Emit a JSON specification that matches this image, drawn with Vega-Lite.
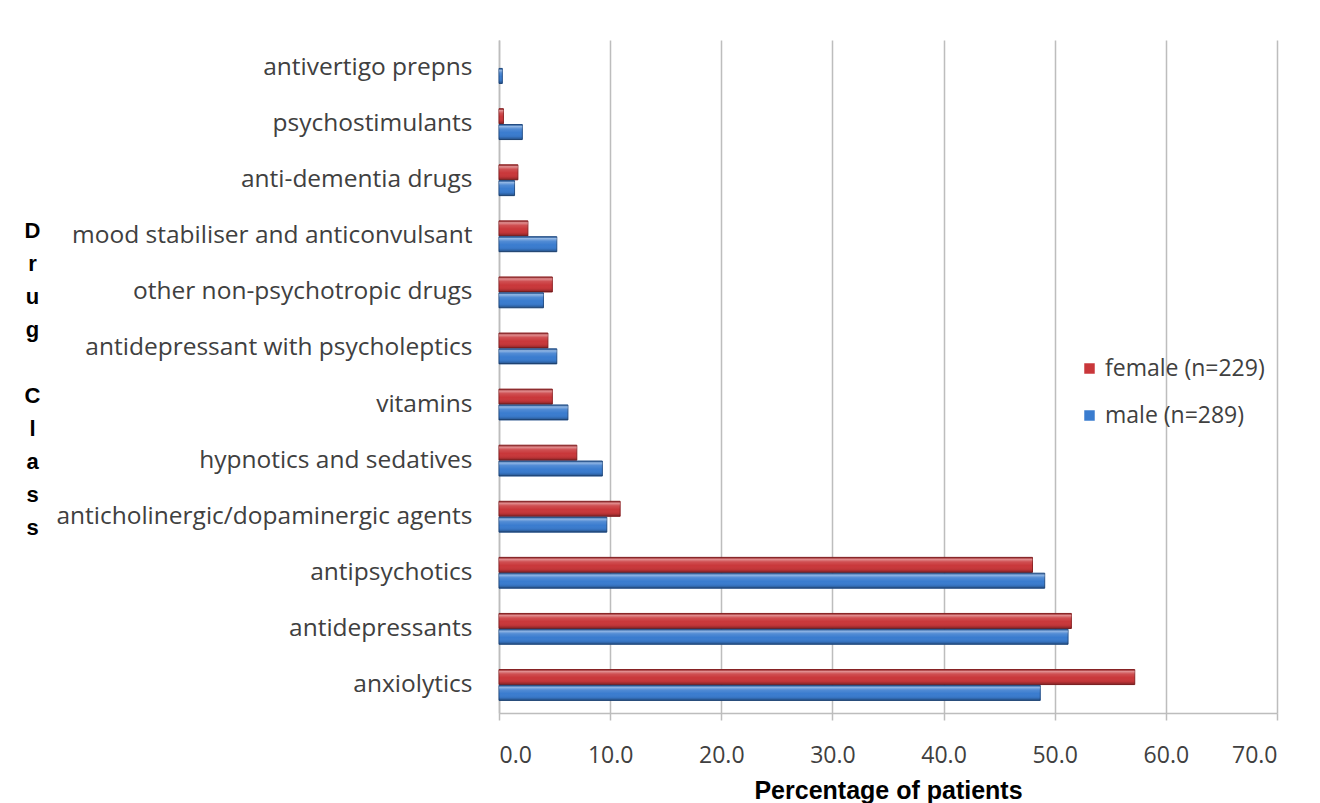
{
  "$schema": "https://vega.github.io/schema/vega-lite/v6.json",
  "autosize": {"type": "none"},
  "width": 778,
  "height": 673,
  "padding": {"left": 499, "top": 40, "right": 43, "bottom": 90},
  "background": "white",
  "config": {
    "view": {"stroke": null},
    "font": "Open Sans"
  },
  "data": {
    "values": [
      {"drug": "antivertigo prepns", "sex": "male (n=289)", "pct": 0.3},
      {"drug": "psychostimulants", "sex": "female (n=229)", "pct": 0.4},
      {"drug": "psychostimulants", "sex": "male (n=289)", "pct": 2.1},
      {"drug": "anti-dementia drugs", "sex": "female (n=229)", "pct": 1.7},
      {"drug": "anti-dementia drugs", "sex": "male (n=289)", "pct": 1.4},
      {"drug": "mood stabiliser and anticonvulsant", "sex": "female (n=229)", "pct": 2.6},
      {"drug": "mood stabiliser and anticonvulsant", "sex": "male (n=289)", "pct": 5.2},
      {"drug": "other non-psychotropic drugs", "sex": "female (n=229)", "pct": 4.8},
      {"drug": "other non-psychotropic drugs", "sex": "male (n=289)", "pct": 4.0},
      {"drug": "antidepressant with psycholeptics", "sex": "female (n=229)", "pct": 4.4},
      {"drug": "antidepressant with psycholeptics", "sex": "male (n=289)", "pct": 5.2},
      {"drug": "vitamins", "sex": "female (n=229)", "pct": 4.8},
      {"drug": "vitamins", "sex": "male (n=289)", "pct": 6.2},
      {"drug": "hypnotics and sedatives", "sex": "female (n=229)", "pct": 7.0},
      {"drug": "hypnotics and sedatives", "sex": "male (n=289)", "pct": 9.3},
      {"drug": "anticholinergic/dopaminergic agents", "sex": "female (n=229)", "pct": 10.9},
      {"drug": "anticholinergic/dopaminergic agents", "sex": "male (n=289)", "pct": 9.7},
      {"drug": "antipsychotics", "sex": "female (n=229)", "pct": 48.0},
      {"drug": "antipsychotics", "sex": "male (n=289)", "pct": 49.1},
      {"drug": "antidepressants", "sex": "female (n=229)", "pct": 51.5},
      {"drug": "antidepressants", "sex": "male (n=289)", "pct": 51.2},
      {"drug": "anxiolytics", "sex": "female (n=229)", "pct": 57.2},
      {"drug": "anxiolytics", "sex": "male (n=289)", "pct": 48.7}
    ]
  },
  "encoding": {
    "y": {
      "field": "drug",
      "type": "nominal",
      "sort": ["antivertigo prepns", "psychostimulants", "anti-dementia drugs", "mood stabiliser and anticonvulsant", "other non-psychotropic drugs", "antidepressant with psycholeptics", "vitamins", "hypnotics and sedatives", "anticholinergic/dopaminergic agents", "antipsychotics", "antidepressants", "anxiolytics"],
      "scale": {"paddingInner": 0.45, "paddingOuter": 0.225},
      "axis": {
        "title": ["D", "r", "u", "g", "\u200b", "C", "l", "a", "s", "s"],
        "titleAngle": 0,
        "titleAlign": "center",
        "titleBaseline": "middle",
        "titleX": -467,
        "titleY": 190,
        "titleLineHeight": 33,
        "titleFont": "Liberation Sans",
        "titleFontSize": 22,
        "titleFontWeight": "bold",
        "titleColor": "black",
        "labelFont": "Open Sans",
        "labelFontSize": 24.5,
        "labelColor": "#404040",
        "labelPadding": 27,
        "labelLimit": 500,
        "ticks": false,
        "domainColor": "#BDBDBD",
        "domainWidth": 1.5
      }
    },
    "yOffset": {
      "field": "sex",
      "type": "nominal",
      "sort": ["female (n=229)", "male (n=289)"],
      "scale": {"paddingInner": 0.05}
    },
    "x": {
      "field": "pct",
      "type": "quantitative",
      "scale": {"domain": [0, 70], "nice": false},
      "axis": {
        "values": [0, 10, 20, 30, 40, 50, 60, 70],
        "format": ".1f",
        "title": "Percentage of patients",
        "titleFont": "Liberation Sans",
        "titleFontSize": 25,
        "titleFontWeight": "bold",
        "titleColor": "black",
        "titlePadding": 11,
        "labelFont": "Open Sans",
        "labelFontSize": 23,
        "labelColor": "#404040",
        "labelPadding": 24,
        "tickSize": 7,
        "tickColor": "#BDBDBD",
        "tickWidth": 1.5,
        "domainColor": "#BDBDBD",
        "domainWidth": 1.5,
        "grid": true,
        "gridColor": "#BDBDBD",
        "gridWidth": 1.5
      }
    }
  },
  "layer": [
    {
      "mark": {"type": "bar", "strokeWidth": 1},
      "encoding": {
        "color": {
          "field": "sex",
          "type": "nominal",
          "sort": ["female (n=229)", "male (n=289)"],
          "scale": {"range": ["#C9373A", "#3A7CCF"]},
          "legend": {
            "title": null,
            "orient": "none",
            "legendX": 579,
            "legendY": 317,
            "symbolType": "square",
            "symbolSize": 110,
            "symbolStrokeWidth": 0,
            "labelFont": "Open Sans",
            "labelFontSize": 23,
            "labelColor": "#404040",
            "labelOffset": 4,
            "rowPadding": 23
          }
        },
        "stroke": {
          "field": "sex",
          "type": "nominal",
          "sort": ["female (n=229)", "male (n=289)"],
          "scale": {"range": ["#8E2224", "#24508A"]},
          "legend": null
        }
      }
    },
    {
      "mark": {
        "type": "bar",
        "fill": {
          "gradient": "linear",
          "x1": 0, "y1": 0, "x2": 0, "y2": 1,
          "stops": [
            {"offset": 0, "color": "rgba(0,0,0,0.15)"},
            {"offset": 0.12, "color": "rgba(255,255,255,0.45)"},
            {"offset": 0.3, "color": "rgba(255,255,255,0.12)"},
            {"offset": 0.55, "color": "rgba(255,255,255,0)"},
            {"offset": 0.8, "color": "rgba(0,0,0,0.05)"},
            {"offset": 1, "color": "rgba(0,0,0,0.35)"}
          ]
        }
      }
    }
  ]
}
